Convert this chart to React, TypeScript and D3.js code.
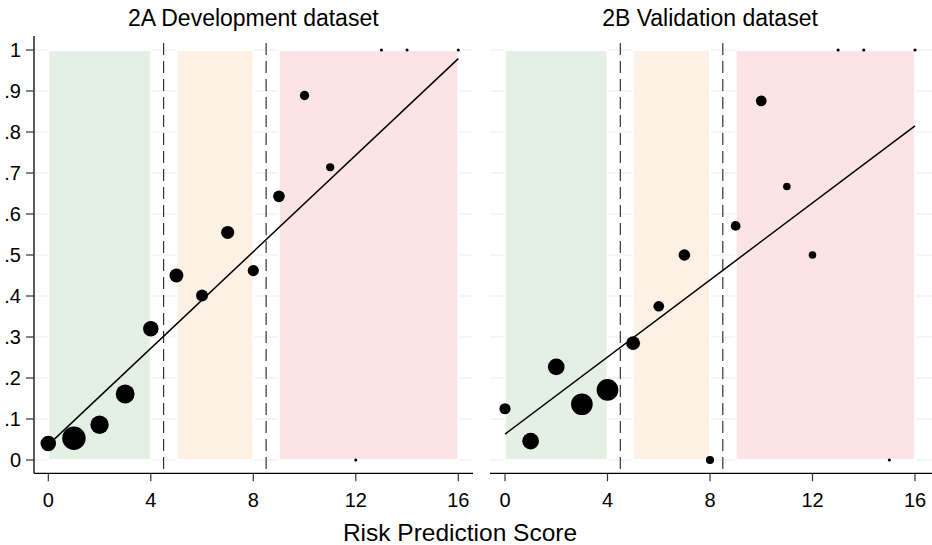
import React from "react";
import * as d3 from "d3";

// ---- data ----
const devScores = [0, 1, 2, 3, 4, 5, 6, 7, 8, 9, 10, 11, 12, 13, 14, 16];
const devProp = [0.04, 0.053, 0.086, 0.161, 0.32, 0.45, 0.401, 0.555, 0.462, 0.643, 0.889, 0.714, 0, 1, 1, 1];
const devN = [25, 57, 35, 37, 25, 20, 15, 18, 13, 14, 9, 7, 1, 1, 1, 1];
const devFit = [0.037, 0.979]; // fitted values at score 0 and 16

const valScores = [0, 1, 2, 3, 4, 5, 6, 7, 8, 9, 10, 11, 12, 13, 14, 15, 16];
const valProp = [0.125, 0.046, 0.227, 0.136, 0.171, 0.285, 0.375, 0.5, 0, 0.571, 0.876, 0.667, 0.5, 1, 1, 0, 1];
const valN = [13, 29, 29, 49, 49, 20, 12, 14, 7, 10, 12, 6, 6, 1, 1, 1, 1];
const valFit = [0.063, 0.815];

const fitX = [0, 16];
const bandStart = [0, 5, 9];
const bandEnd = [4, 8, 16];
const bandColor = ["#e5f0e4", "#fdf1e5", "#fde4e4"];
const cutoffs = [4.5, 8.5];
const yTicks = [0, 0.1, 0.2, 0.3, 0.4, 0.5, 0.6, 0.7, 0.8, 0.9, 1];
const yTickLabels = ["0", ".1", ".2", ".3", ".4", ".5", ".6", ".7", ".8", ".9", "1"];
const xTicks = [0, 4, 8, 12, 16];
const titles = ["2A Development dataset", "2B Validation dataset"];
const xTitle = "Risk Prediction Score";

const FONT = "'Liberation Sans', Arial, Helvetica, sans-serif";

const y = d3.scaleLinear().domain([0, 1]).range([460, 50]);
const r = d3.scaleSqrt().domain([0, 57]).range([0, 11.7]);

type PanelProps = {
  title: string;
  x: d3.ScaleLinear<number, number>;
  left: number;
  right: number;
  scores: number[];
  prop: number[];
  n: number[];
  fit: number[];
  yAxis: boolean;
};

function Panel({ title, x, left, right, scores, prop, n, fit, yAxis }: PanelProps) {
  const axisY = 473.3;
  const line = d3
    .line<number>()
    .x((_, i) => x(fitX[i]))
    .y((d) => y(d));
  return (
    <g>
      {/* gridlines */}
      {yTicks.map((t, i) => (
        <line key={"g" + i} x1={left} x2={right} y1={y(t)} y2={y(t)} stroke="#e4edef" strokeWidth={1.2} />
      ))}
      {/* bands */}
      {bandStart.map((b, i) => (
        <rect
          key={"b" + i}
          x={x(b)}
          y={y(1)}
          width={x(bandEnd[i]) - x(b)}
          height={y(0) - y(1)}
          fill={bandColor[i]}
          stroke="#ffffff"
          strokeWidth={2}
        />
      ))}
      {/* cutoffs */}
      {cutoffs.map((c, i) => (
        <line
          key={"c" + i}
          x1={x(c)}
          x2={x(c)}
          y1={43}
          y2={axisY}
          stroke="#222"
          strokeWidth={1.1}
          strokeDasharray="12 6"
        />
      ))}
      {/* fit line */}
      <path d={line(fit) || ""} fill="none" stroke="#000" strokeWidth={1.5} />
      {/* points */}
      {scores.map((s, i) => (
        <circle key={"p" + i} cx={x(s)} cy={y(prop[i])} r={r(n[i])} fill="#000" />
      ))}
      {/* x axis */}
      <line x1={left} x2={right} y1={axisY} y2={axisY} stroke="#000" strokeWidth={1.3} />
      {xTicks.map((t, i) => (
        <g key={"x" + i}>
          <line x1={x(t)} x2={x(t)} y1={axisY} y2={axisY + 8} stroke="#333" strokeWidth={1.2} />
          <text x={x(t)} y={506.5} textAnchor="middle" fontSize={20} fontFamily={FONT} fill="#000">
            {t}
          </text>
        </g>
      ))}
      {/* y axis */}
      {yAxis && (
        <g>
          <line x1={left} x2={left} y1={36} y2={axisY} stroke="#000" strokeWidth={1.3} />
          {yTicks.map((t, i) => (
            <g key={"y" + i}>
              <line x1={left - 8} x2={left} y1={y(t)} y2={y(t)} stroke="#333" strokeWidth={1.2} />
              <text
                x={21}
                y={y(t)}
                dy="0.36em"
                textAnchor="end"
                fontSize={20}
                fontFamily={FONT}
                fill="#000"
              >
                {yTickLabels[i]}
              </text>
            </g>
          ))}
        </g>
      )}
      {/* title */}
      <text x={(x(0) + x(16)) / 2} y={26} textAnchor="middle" fontSize={23} fontFamily={FONT} fill="#000">
        {title}
      </text>
    </g>
  );
}

export default function App() {
  const xLeft = d3.scaleLinear().domain([0, 16]).range([48.3, 458.3]);
  const xRight = d3.scaleLinear().domain([0, 16]).range([505, 915]);
  return (
    <svg
      width={932}
      height={545}
      style={{ position: "absolute", left: 0, top: 0, background: "#fff" }}
    >
      <rect x={0} y={0} width={932} height={545} fill="#fff" />
      <Panel
        title={titles[0]}
        x={xLeft}
        left={34}
        right={473}
        scores={devScores}
        prop={devProp}
        n={devN}
        fit={devFit}
        yAxis={true}
      />
      <Panel
        title={titles[1]}
        x={xRight}
        left={490}
        right={932}
        scores={valScores}
        prop={valProp}
        n={valN}
        fit={valFit}
        yAxis={false}
      />
      <text x={460} y={541} textAnchor="middle" fontSize={24.5} fontFamily={FONT} fill="#000">
        {xTitle}
      </text>
    </svg>
  );
}
